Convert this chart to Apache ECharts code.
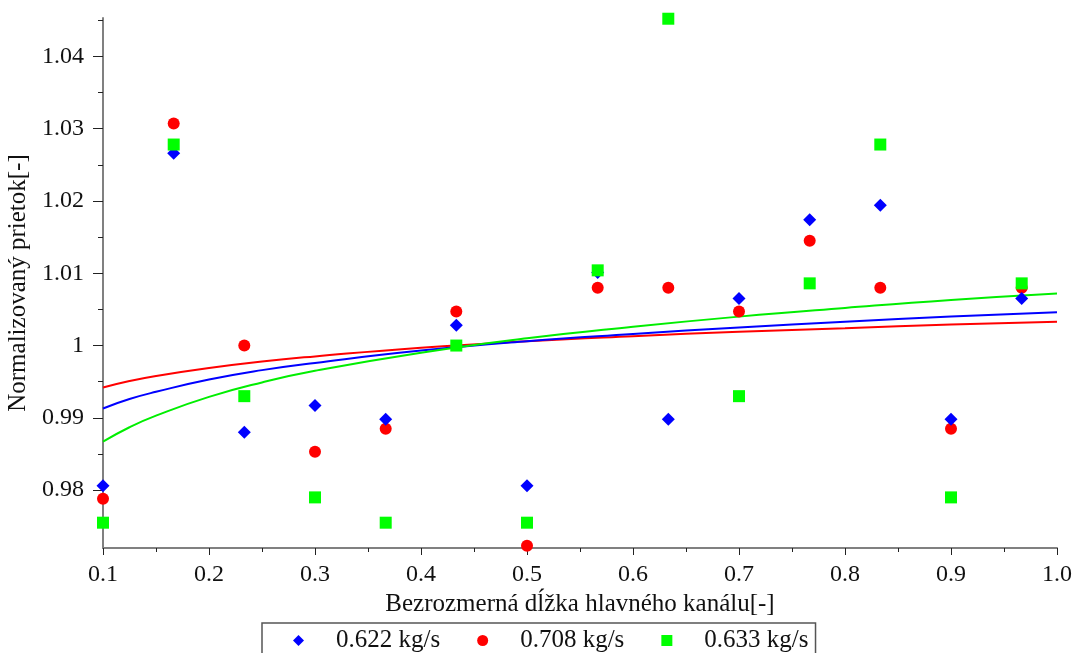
<!DOCTYPE html>
<html>
<head>
<meta charset="utf-8">
<script src="https://cdn.jsdelivr.net/npm/echarts@6/dist/echarts.min.js"></script>
<style>
  html, body { margin: 0; padding: 0; background: #fff; }
  #chart { width: 1075px; height: 653px; }
</style>
</head>
<body>
<div id="chart"></div>
<script>
// measured positions along the channel
const xs = [0.1, 0.1667, 0.2333, 0.3, 0.3667, 0.4333, 0.5, 0.5667, 0.6333, 0.7, 0.7667, 0.8333, 0.9, 0.9667];

const blueVals = [0.9806, 1.0266, 0.9880, 0.9917, 0.9898, 1.0028, 0.9806, 1.0101, 0.9898, 1.0065, 1.0174, 1.0194, 0.9898, 1.0065];
const redVals = [0.9788, 1.0307, 1.0000, 0.9853, 0.9885, 1.0047, 0.9723, 1.0080, 1.0080, 1.0047, 1.0145, 1.0080, 0.9885, 1.0080];
const greenVals = [0.9755, 1.0278, 0.9930, 0.9790, 0.9755, 1.0000, 0.9755, 1.0104, 1.0452, 0.9930, 1.0086, 1.0278, 0.9790, 1.0086];

// fitted curves
const fitX = [0.1, 0.125, 0.15, 0.2, 0.25, 0.3, 0.4, 0.5, 0.6, 0.7, 0.8, 0.9, 1.0];
const blueFit = [0.9913, 0.9926, 0.9936, 0.9953, 0.9966, 0.9976, 0.9993, 1.0006, 1.0016, 1.0025, 1.0033, 1.0040, 1.0046];
const redFit = [0.9942, 0.9951, 0.9958, 0.9969, 0.9978, 0.9985, 0.9997, 1.0006, 1.0013, 1.0019, 1.0024, 1.0029, 1.0033];
const greenFit = [0.9867, 0.9887, 0.9903, 0.9929, 0.9949, 0.9965, 0.9990, 1.0010, 1.0026, 1.0040, 1.0052, 1.0063, 1.0072];

const yLabels = [0.98, 0.99, 1, 1.01, 1.02, 1.03, 1.04];
const yMinor = [0.975, 0.985, 0.995, 1.005, 1.015, 1.025, 1.035, 1.045];

const names = ['0.622 kg/s', '0.708 kg/s', '0.633 kg/s'];

const pairs = (x, y) => x.map((v, i) => [v, y[i]]);
const font = 'Liberation Serif, Times New Roman, serif';

const chart = echarts.init(document.getElementById('chart'));

const lineSeries = (data, color) => ({
  type: 'line',
  data: pairs(fitX, data),
  smooth: true,
  showSymbol: false,
  lineStyle: { color: color, width: 2 },
  silent: true,
  z: 1
});

const scatterSeries = (name, data, symbol, size, color) => ({
  name: name,
  type: 'scatter',
  data: pairs(xs, data),
  symbol: symbol,
  symbolSize: size,
  itemStyle: { color: color, opacity: 1 },
  clip: false,
  z: 3
});

chart.setOption({
  animation: false,
  backgroundColor: '#fff',
  textStyle: { fontFamily: font },
  grid: { left: 103, right: 18, top: 18, bottom: 105, outerBoundsMode: 'none' },
  xAxis: {
    type: 'value',
    min: 0.1,
    max: 1.0,
    interval: 0.1,
    name: 'Bezrozmerná dĺžka hlavného kanálu[-]',
    nameLocation: 'middle',
    nameGap: 43,
    nameTextStyle: { fontFamily: font, fontSize: 25, color: '#111' },
    axisLine: { lineStyle: { color: '#808080', width: 2 } },
    axisTick: { length: 7, lineStyle: { color: '#222', width: 1 } },
    minorTick: { show: true, splitNumber: 2, length: 4, lineStyle: { color: '#222', width: 1 } },
    axisLabel: {
      margin: 15,
      fontFamily: font,
      fontSize: 24,
      color: '#111',
      formatter: v => v.toFixed(1)
    },
    splitLine: { show: false }
  },
  yAxis: [{
    type: 'value',
    min: 0.972,
    max: 1.0453,
    name: 'Normalizovaný prietok[-]',
    nameLocation: 'middle',
    nameGap: 59,
    nameTextStyle: { fontFamily: font, fontSize: 25, color: '#111' },
    axisLine: { lineStyle: { color: '#808080', width: 2 } },
    axisTick: { length: 10, customValues: yLabels, lineStyle: { color: '#222', width: 1 } },
    axisLabel: {
      margin: 19,
      fontFamily: font,
      fontSize: 24,
      color: '#111',
      customValues: yLabels,
      formatter: v => String(Number(v.toFixed(2)))
    },
    splitLine: { show: false }
  }, {
    type: 'value',
    position: 'left',
    min: 0.972,
    max: 1.0453,
    axisLine: { show: false },
    axisTick: { show: true, length: 5, customValues: yMinor, lineStyle: { color: '#222', width: 1 } },
    axisLabel: { show: false, customValues: yMinor },
    splitLine: { show: false }
  }],
  legend: {
    data: names,
    left: 262,
    top: 623,
    orient: 'horizontal',
    itemGap: 37,
    itemWidth: 11,
    itemHeight: 11,
    padding: [5, 7, 12, 31],
    borderColor: '#555',
    borderWidth: 1.5,
    textStyle: { fontFamily: font, fontSize: 25, color: '#111', padding: [0, 0, 0, 27] }
  },
  series: [
    lineSeries(redFit, '#ff0000'),
    lineSeries(blueFit, '#0000ff'),
    lineSeries(greenFit, '#00ee00'),
    scatterSeries(names[1], redVals, 'circle', 12, '#ff0000'),
    scatterSeries(names[0], blueVals, 'diamond', 13, '#0000ff'),
    scatterSeries(names[2], greenVals, 'rect', 12, '#00ff00')
  ]
});

window.addEventListener('resize', () => chart.resize());
</script>
</body>
</html>
